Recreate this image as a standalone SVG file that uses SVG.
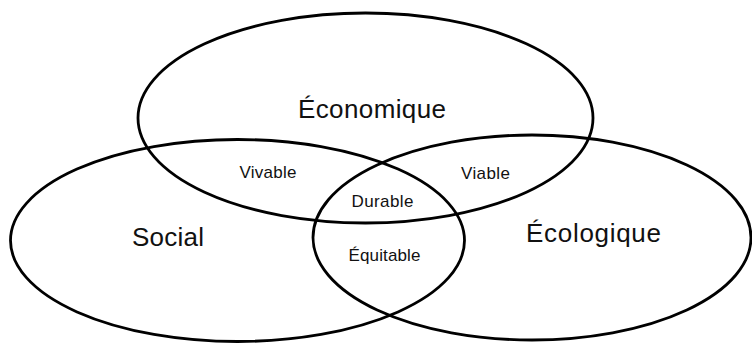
<svg xmlns="http://www.w3.org/2000/svg" width="752" height="344" viewBox="0 0 752 344">
  <style>
    .set { fill: none; stroke: #000; stroke-width: 2.8; }
    .big { font-family: "Liberation Sans", Arial, sans-serif; font-size: 26px; fill: #111; text-anchor: middle; }
    .small { font-family: "Liberation Sans", Arial, sans-serif; font-size: 17px; fill: #111; text-anchor: middle; }
  </style>
  <rect width="752" height="344" fill="#fff"/>

  <!-- three overlapping sets -->
  <g id="economique">
    <ellipse class="set" cx="365.5" cy="118" rx="227.5" ry="105"/>
    <text class="big" x="372" y="118" textLength="148" lengthAdjust="spacing">Économique</text>
  </g>
  <g id="social">
    <ellipse class="set" cx="237.5" cy="240.5" rx="227" ry="101"/>
    <text class="big" x="168" y="246" textLength="72" lengthAdjust="spacing">Social</text>
  </g>
  <g id="ecologique">
    <ellipse class="set" cx="532" cy="237.5" rx="219" ry="102.5"/>
    <text class="big" x="593.5" y="242" textLength="135" lengthAdjust="spacing">Écologique</text>
  </g>

  <!-- overlap labels -->
  <g id="vivable"><text class="small" x="268" y="177.5" textLength="57" lengthAdjust="spacing">Vivable</text></g>
  <g id="viable"><text class="small" x="485.5" y="178.5" textLength="49" lengthAdjust="spacing">Viable</text></g>
  <g id="durable"><text class="small" x="382.5" y="206.5" textLength="62" lengthAdjust="spacing">Durable</text></g>
  <g id="equitable"><text class="small" x="384.5" y="261" textLength="72" lengthAdjust="spacing">Équitable</text></g>

  <g id="connectors"/>
</svg>
